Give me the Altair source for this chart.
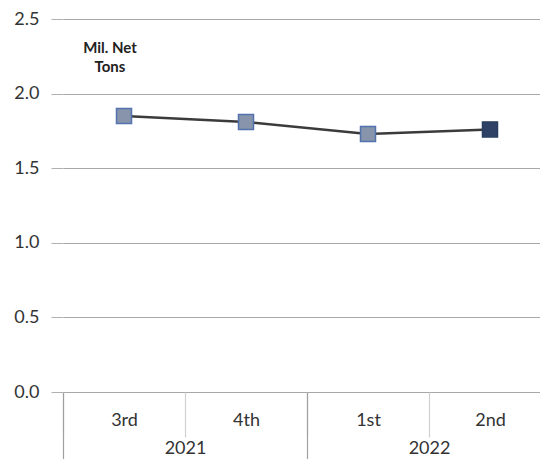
import altair as alt
import pandas as pd

quarters = ["3rd", "4th", "1st", "2nd"]
years_of_quarter = ["2021", "2021", "2022", "2022"]
values = [1.85, 1.81, 1.73, 1.76]
years = ["2021", "2022"]
unit_label = ["Mil. Net", "Tons"]

df = pd.DataFrame({"quarter": quarters, "year": years_of_quarter, "value": values})
dfy = pd.DataFrame({"year": years})

FONT = "Lato"
W, H = 488, 373
SVG_W, SVG_H = 532, 451
PAD_L, PAD_T = 55, 11

x_q = alt.X(
    "quarter:N", sort=quarters, title=None,
    scale=alt.Scale(paddingInner=0, paddingOuter=0),
    axis=alt.Axis(orient="bottom", domain=False, grid=False, tickBand="extent",
                  tickSize=45, tickColor="#d0d0d0", tickWidth=1.2,
                  labelPadding=-17, labelBaseline="middle", labelAngle=0,
                  labelFontSize=18, labelFont=FONT, labelColor="#333333"),
)
y = alt.Y(
    "value:Q", title=None,
    scale=alt.Scale(domain=[0, 2.5]),
    axis=alt.Axis(values=[0, 0.5, 1.0, 1.5, 2.0, 2.5], format=".1f", domain=False,
                  tickSize=12, tickColor="#b0b0b0", labelPadding=12,
                  gridColor="#a8a8a8", gridWidth=1.2,
                  labelFontSize=18, labelFont=FONT, labelColor="#333333"),
)

line = alt.Chart(df).mark_line(color="#3b3b3b", strokeWidth=2.5).encode(x=x_q, y=y)
pts = alt.Chart(df).mark_square(size=225, opacity=1, strokeWidth=1.5).encode(
    x=x_q, y=y,
    fill=alt.condition(alt.datum.quarter == "2nd", alt.value("#2f4266"), alt.value("#8794ab")),
    stroke=alt.condition(alt.datum.quarter == "2nd", alt.value("#2a3d60"), alt.value("#5272ad")),
)
note = alt.Chart(pd.DataFrame({"t": [unit_label]})).mark_text(
    font=FONT, fontSize=15, fontWeight="bold", color="#222222", align="center",
    baseline="middle", lineHeight=19,
).encode(text="t", x=alt.value(47), y=alt.value(29))

yr = alt.Chart(dfy).mark_point(opacity=0).encode(
    x=alt.X("year:N", sort=years, title=None,
            scale=alt.Scale(paddingInner=0, paddingOuter=0),
            axis=alt.Axis(orient="bottom", domain=False, grid=False, tickBand="extent",
                          tickSize=75, tickColor="#a0a0a0", tickWidth=1.2,
                          labelPadding=-19, labelBaseline="middle", labelAngle=0,
                          labelFontSize=18, labelFont=FONT, labelColor="#333333")),
)

main = alt.layer(line, pts, note)

chart = alt.layer(main, yr).resolve_scale(x="independent").properties(
    width=W, height=H,
    autosize=alt.AutoSizeParams(type="none"),
    padding={"left": PAD_L, "top": PAD_T, "right": SVG_W - PAD_L - W,
             "bottom": SVG_H - PAD_T - H},
    background="white",
).configure_view(stroke=None)

chart.save("out.html", embed_options={"renderer": "svg", "actions": False})
